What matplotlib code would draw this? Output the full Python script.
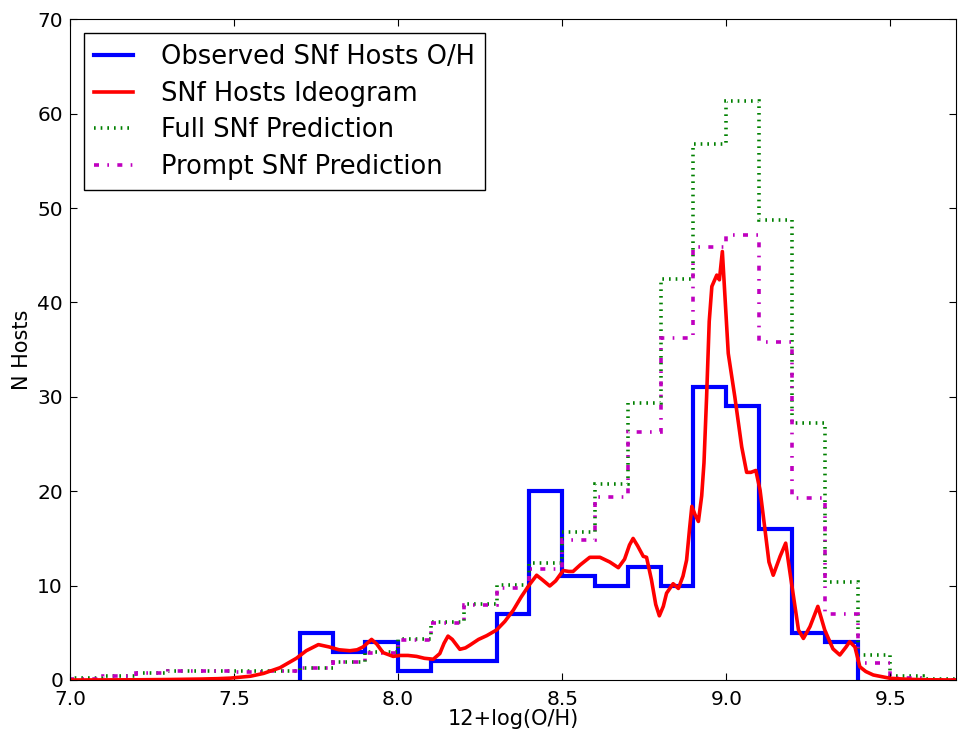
import numpy as np
import matplotlib
matplotlib.use('Agg')
import matplotlib.pyplot as plt

# old-style dash patterns, not scaled with line width
plt.rcParams['lines.scale_dashes'] = False

# bin edges for the prediction histograms (0.1 dex bins)
pred_edges = np.round(np.arange(7.0, 9.75, 0.1), 2)
full_pred = [0.2, 0.45, 0.7, 0.9, 0.9, 0.9, 0.95, 1.25, 1.95, 3.0, 4.3, 6.1, 8.0, 10.1,
             12.4, 15.7, 20.8, 29.3, 42.5, 56.8, 61.3, 48.7, 27.2, 10.4, 2.7, 0.45, 0.1]
prompt_pred = [0.15, 0.4, 0.7, 0.9, 0.9, 0.85, 0.9, 1.25, 1.9, 2.9, 4.2, 6.0, 7.9, 9.8,
               11.8, 14.8, 19.4, 26.3, 36.2, 45.9, 47.1, 35.8, 19.3, 7.0, 1.8, 0.25, 0.05]

# observed host counts
obs_edges = np.round(np.arange(7.7, 9.45, 0.1), 2)
obs_counts = [5, 3, 4, 1, 2, 2, 7, 20, 11, 10, 12, 10, 31, 29, 16, 5, 4]

# ideogram
ideo_x = [7.0, 7.2, 7.3, 7.4, 7.45, 7.49, 7.55, 7.59, 7.64, 7.69, 7.72, 7.757, 7.79, 7.82,
          7.853, 7.875, 7.893, 7.919, 7.935, 7.954, 7.985, 8.005, 8.03, 8.056, 8.08, 8.107,
          8.127, 8.14, 8.152, 8.165, 8.188, 8.205, 8.219, 8.245, 8.27, 8.30, 8.325, 8.351,
          8.375, 8.40, 8.422, 8.44, 8.462, 8.48, 8.503, 8.52, 8.533, 8.555, 8.584, 8.615,
          8.645, 8.671, 8.69, 8.705, 8.716, 8.73, 8.747, 8.757, 8.772, 8.785, 8.796, 8.808,
          8.818, 8.838, 8.854, 8.868, 8.879, 8.888, 8.895, 8.905, 8.915, 8.925, 8.932, 8.94,
          8.948, 8.956, 8.971, 8.979, 8.988, 8.996, 9.006, 9.026, 9.047, 9.062, 9.075, 9.09,
          9.103, 9.118, 9.13, 9.143, 9.164, 9.181, 9.199, 9.22, 9.235, 9.255, 9.279, 9.30,
          9.325, 9.346, 9.365, 9.376, 9.392, 9.407, 9.425, 9.448, 9.499, 9.55, 9.6, 9.7]
ideo_y = [0.0, 0.02, 0.05, 0.1, 0.14, 0.2, 0.4, 0.7, 1.3, 2.3, 3.1, 3.75, 3.5, 3.2,
          3.1, 3.2, 3.5, 4.3, 3.8, 2.9, 2.5, 2.6, 2.6, 2.5, 2.3, 2.2,
          2.8, 3.9, 4.65, 4.3, 3.25, 3.4, 3.7, 4.3, 4.7, 5.3, 6.2, 7.4,
          8.8, 10.1, 11.1, 10.6, 9.96, 10.5, 11.6, 11.5, 11.5, 12.2, 13.0, 13.0,
          12.5, 11.9, 12.8, 14.3, 15.0, 14.2, 13.1, 13.0, 10.6, 8.0, 6.8, 7.8,
          9.2, 10.2, 9.7, 11.0, 12.7, 16.0, 18.4, 17.5, 16.8, 19.5, 23.0, 30.0,
          38.0, 41.7, 42.9, 42.4, 45.4, 40.6, 34.6, 30.0, 24.7, 22.0, 22.0, 22.2,
          20.1, 15.9, 12.5, 11.1, 13.1, 14.5, 10.2, 5.3, 4.4, 5.65, 7.8, 5.3,
          3.3, 2.65, 3.5, 4.06, 3.5, 1.4, 0.9, 0.53, 0.18, 0.08, 0.03, 0.0]

fig = plt.figure(figsize=(9.64, 7.38), dpi=100)
ax = fig.add_axes([0.0726, 0.0786, 0.9191, 0.8952])

ax.stairs(obs_counts, obs_edges, color='b', lw=3, label='Observed SNf Hosts O/H')
ax.plot(ideo_x, ideo_y, color='r', lw=2.6, label='SNf Hosts Ideogram')
ax.stairs(full_pred, pred_edges, color='g', lw=2.6, ls=(0, (1.2, 3.6)),
          label='Full SNf Prediction')
ax.stairs(prompt_pred, pred_edges, color='m', lw=2.6, ls=(0, (3.6, 6, 1.2, 6)),
          label='Prompt SNf Prediction')

ax.set_xlim(7.0, 9.7)
ax.set_ylim(0, 70)
ax.set_xticks([7.0, 7.5, 8.0, 8.5, 9.0, 9.5])
ax.set_xticklabels(['7.0', '7.5', '8.0', '8.5', '9.0', '9.5'])
ax.tick_params(direction='in', top=True, right=True, length=5, labelsize=14.5, pad=5)
ax.tick_params(axis='x', pad=7)
ax.set_xlabel('12+log(O/H)', fontsize=15, labelpad=0)
ax.set_ylabel('N Hosts', fontsize=15, labelpad=4)

leg = ax.legend(loc='upper left', fontsize=18.5, fancybox=False, framealpha=1,
                edgecolor='k', handlelength=1.5, labelspacing=0.42,
                borderaxespad=0.55, handletextpad=1.1, borderpad=0.4)
leg.get_frame().set_linewidth(1.0)

fig.savefig('out.png', dpi=100)
